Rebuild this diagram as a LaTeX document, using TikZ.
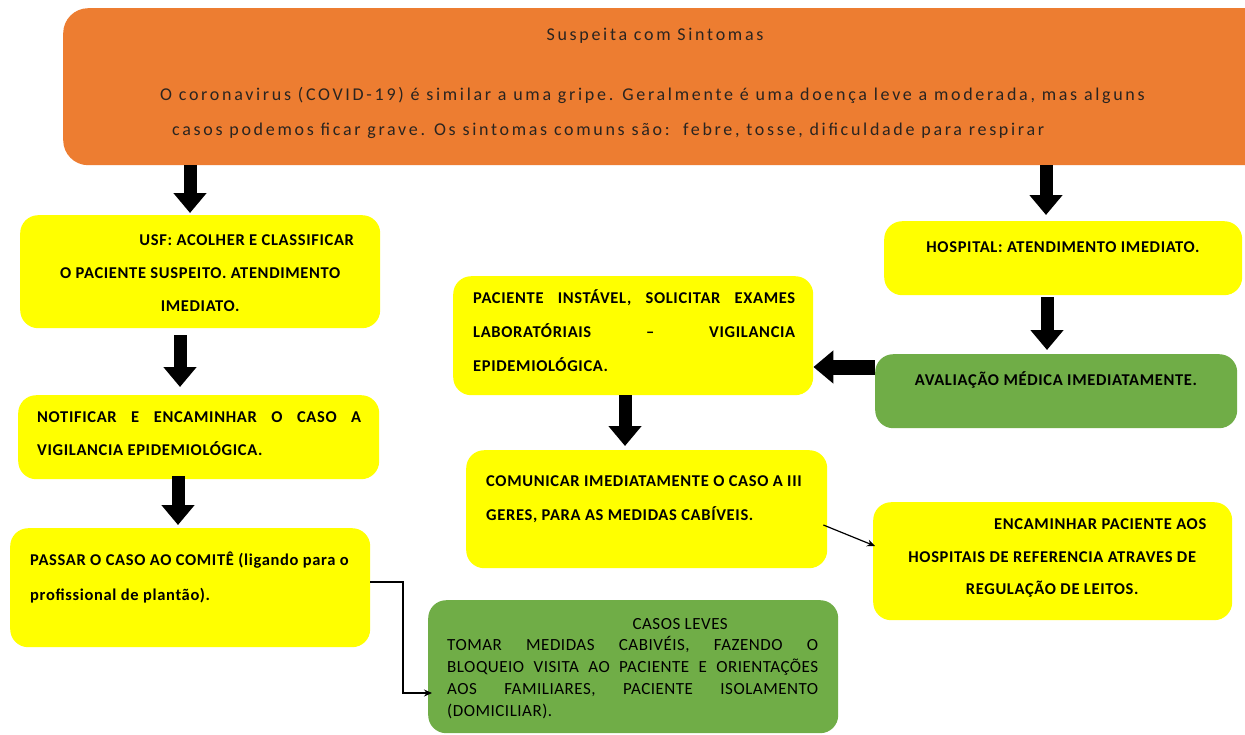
\documentclass[tikz,border=0pt]{standalone}
\usepackage{fontspec}
\setmainfont{Carlito}
\newfontfamily\ofont[LetterSpace=15]{Carlito}
\newfontfamily\bfont[LetterSpace=4]{Carlito}
\newfontfamily\rfont[LetterSpace=3]{Carlito}
\usetikzlibrary{arrows.meta,calc}
\definecolor{orng}{HTML}{ED7D31}
\definecolor{ylw}{HTML}{FFFF00}
\definecolor{grn}{HTML}{70AD47}
\definecolor{dtext}{HTML}{2A2420}
\begin{document}
\begin{tikzpicture}[x=1pt,y=-1pt,
  box/.style={rounded corners=18pt, inner sep=0pt, anchor=north west, draw=none},
  ybox/.style={box, fill=ylw},
  gbox/.style={box, fill=grn},
  txt/.style={inner sep=0pt, anchor=base west, font=\bfont\bfseries\fontsize{16.5}{33}\selectfont},
  rtxt/.style={inner sep=0pt, anchor=base west, font=\rfont\fontsize{17}{21.75}\selectfont},
  otxt/.style={inner sep=0pt, anchor=base west, text=dtext, font=\ofont\fontsize{18}{35}\selectfont},
  blockarrow/.style={line width=13pt, -{Triangle[length=20pt,width=32pt]}},
  thinarrow/.style={line width=1.2pt, -{Stealth[length=8pt,width=7pt]}}
]
\useasboundingbox (0,0) rectangle (1245,734);
\clip (0,0) rectangle (1245,734);
\fill[white] (0,0) rectangle (1245,734);

% top box
\node[box, fill=orng, rounded corners=25pt, minimum width=1230pt, minimum height=157pt] (top) at (63,8) {};
\node[otxt, anchor=base] (title) at (655,40) {Suspeita com Sintomas};
\node[otxt] (intro) at (160,100) {\parbox[t]{1080pt}{\raggedright O coronavirus (COVID-19) é similar a uma gripe. Geralmente é uma doença leve a moderada, mas alguns\\
\hspace*{12pt}casos podemos ficar grave. Os sintomas comuns são:\ \ febre, tosse, dificuldade para respirar}};

% left column
\node[ybox, minimum width=360pt, minimum height=113pt] (usf) at (20,215) {};
\node[txt] (usft) at (35,245) {\parbox[t]{330pt}{\centering\hspace*{93pt}USF: ACOLHER E CLASSIFICAR\\ O PACIENTE SUSPEITO. ATENDIMENTO\\ IMEDIATO.}};

\node[ybox, minimum width=361pt, minimum height=84pt] (notif) at (18,395) {};
\node[txt] (notift) at (37,422) {\parbox[t]{324pt}{NOTIFICAR E ENCAMINHAR O CASO A\linebreak VIGILANCIA EPIDEMIOLÓGICA.}};

\node[ybox, minimum width=360pt, minimum height=119pt] (passar) at (10,528) {};
\node[txt, font=\bfont\bfseries\fontsize{16.5}{35}\selectfont] (passart) at (30,565) {\parbox[t]{345pt}{\raggedright PASSAR O CASO AO COMITÊ (ligando para o\\ profissional de plantão).}};

\node[gbox, minimum width=410pt, minimum height=133pt] (casos) at (428,600) {};
\node[rtxt] (casost) at (447,629) {\parbox[t]{371pt}{{\centering\hspace*{95pt}CASOS LEVES\par}TOMAR MEDIDAS CABIVÉIS, FAZENDO O\linebreak BLOQUEIO VISITA AO PACIENTE E ORIENTAÇÕES\linebreak AOS FAMILIARES, PACIENTE ISOLAMENTO\linebreak (DOMICILIAR).}};

% middle column
\node[ybox, minimum width=360pt, minimum height=119pt] (pac) at (453,276) {};
\node[txt, font=\bfont\bfseries\fontsize{16.5}{34}\selectfont] (pact) at (473,303) {\parbox[t]{322pt}{PACIENTE INSTÁVEL, SOLICITAR EXAMES\linebreak LABORATÓRIAIS – VIGILANCIA\linebreak EPIDEMIOLÓGICA.}};

\node[ybox, minimum width=361pt, minimum height=118pt] (com) at (466,450) {};
\node[txt, font=\bfont\bfseries\fontsize{16.5}{34}\selectfont] (comt) at (486,486) {\parbox[t]{340pt}{\raggedright COMUNICAR IMEDIATAMENTE O CASO A III\\ GERES, PARA AS MEDIDAS CABÍVEIS.}};

% right column
\node[ybox, minimum width=358pt, minimum height=74pt] (hosp) at (884,221) {};
\node[txt, anchor=base] (hospt) at (1063,252) {HOSPITAL: ATENDIMENTO IMEDIATO.};

\node[gbox, minimum width=362pt, minimum height=74pt] (aval) at (875,354) {};
\node[txt, anchor=base] (avalt) at (1056,385) {AVALIAÇÃO MÉDICA IMEDIATAMENTE.};

\node[ybox, minimum width=359pt, minimum height=118pt] (enc) at (873,502) {};
\node[txt] (enct) at (887,529) {\parbox[t]{330pt}{\centering\hspace*{96pt}ENCAMINHAR PACIENTE AOS\\ HOSPITAIS DE REFERENCIA ATRAVES DE\\[-1pt] REGULAÇÃO DE LEITOS.}};

% block arrows
\draw[blockarrow, shorten >=2pt] (top.south -| 190,0) -- (usf.north -| 190,0);
\draw[blockarrow, shorten >=6pt] (top.south -| 1046,0) -- (hosp.north -| 1046,0);
\draw[blockarrow, shorten <=7pt, shorten >=8pt] (usf.south -| 180,0) -- (notif.north -| 180,0);
\draw[blockarrow, shorten <=-3pt, shorten >=3pt] (notif.south -| 178,0) -- (passar.north -| 178,0);
\draw[blockarrow, shorten <=2pt, shorten >=4pt] (hosp.south -| 1047,0) -- (aval.north -| 1047,0);
\draw[blockarrow, line width=15pt] (aval.west |- 0,367) -- (pac.east |- 0,367);
\draw[blockarrow, shorten >=4pt] (pac.south -| 625,0) -- (com.north -| 625,0);

% thin connectors
\coordinate (comout) at ($(com.north east)+(-4,75)$);
\coordinate (encin) at ($(enc.north west)+(2,44)$);
\draw[thinarrow] (comout) -- (encin);
\coordinate (bend) at (403,693);
\draw[thinarrow] (passar.east |- 0,582) -| (bend) -- ($(casos.west |- 0,693)+(4,0)$);
\end{tikzpicture}
\end{document}
